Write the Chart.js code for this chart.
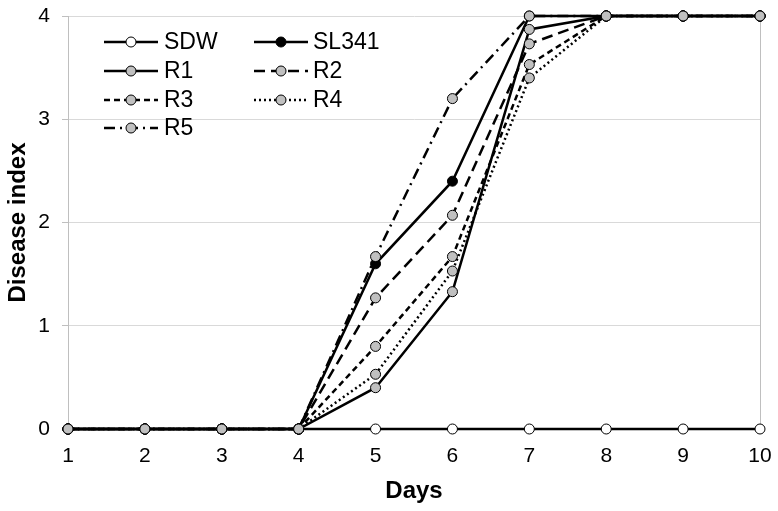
<!DOCTYPE html>
<html>
<head>
<meta charset="utf-8">
<script src="https://cdn.jsdelivr.net/npm/chart.js@4.4.1/dist/chart.umd.min.js"></script>
<style>
  html, body { margin: 0; padding: 0; background: #fff; }
  #wrap { width: 778px; height: 511px; }
</style>
</head>
<body>
<div id="wrap"><canvas id="diseaseChart" width="778" height="511"></canvas></div>
<script>
// --- Dados ---
const days = [1, 2, 3, 4, 5, 6, 7, 8, 9, 10];
const sdw   = [0, 0, 0, 0, 0, 0, 0, 0, 0, 0];
const sl341 = [0, 0, 0, 0, 1.6, 2.4, 4, 4, 4, 4];
const r1    = [0, 0, 0, 0, 0.4, 1.33, 3.87, 4, 4, 4];
const r2    = [0, 0, 0, 0, 1.27, 2.07, 3.73, 4, 4, 4];
const r3    = [0, 0, 0, 0, 0.8, 1.67, 3.53, 4, 4, 4];
const r4    = [0, 0, 0, 0, 0.53, 1.53, 3.4, 4, 4, 4];
const r5    = [0, 0, 0, 0, 1.67, 3.2, 4, 4, 4, 4];
const yTicks = [0, 1, 2, 3, 4];

const FONT = "'Liberation Sans', Arial, sans-serif";
const GRAY = '#c0c0c0';

function toPoints(values) {
    return days.map((d, i) => ({ x: d, y: values[i] }));
}

function makeSeries(label, values, fill, dash, order) {
    return {
        label: label,
        data: toPoints(values),
        borderColor: '#000',
        borderWidth: 2.5,
        borderDash: dash,
        pointRadius: 5,
        pointHoverRadius: 5,
        pointBackgroundColor: fill,
        pointBorderColor: '#000',
        pointBorderWidth: 1,
        tension: 0,
        clip: false,
        order: order
    };
}

const datasets = [
    makeSeries('SDW', sdw, '#fff', [], 7),
    makeSeries('SL341', sl341, '#000', [], 6),
    makeSeries('R1', r1, GRAY, [], 5),
    makeSeries('R2', r2, GRAY, [11, 6], 4),
    makeSeries('R3', r3, GRAY, [6, 4], 3),
    makeSeries('R4', r4, GRAY, [2, 3], 2),
    makeSeries('R5', r5, GRAY, [11, 5, 2, 5], 1)
];

// Legenda desenhada dentro da área do gráfico (2 colunas)
const insideLegend = {
    id: 'insideLegend',
    afterDatasetsDraw(chart) {
        const ctx = chart.ctx;
        const cols = [{ x0: 104, x1: 158, tx: 164 }, { x0: 254, x1: 308, tx: 313 }];
        const rows = [42, 71, 100, 128];
        ctx.save();
        ctx.font = '23px ' + FONT;
        ctx.textBaseline = 'middle';
        ctx.fillStyle = '#000';
        chart.data.datasets.forEach((ds, i) => {
            const c = cols[i === 0 ? 0 : (i === 1 ? 1 : (i % 2 === 0 ? 0 : 1))];
            const y = rows[i < 2 ? 0 : Math.floor(i / 2)];
            ctx.strokeStyle = ds.borderColor;
            ctx.lineWidth = ds.borderWidth;
            ctx.setLineDash(ds.borderDash);
            ctx.beginPath();
            ctx.moveTo(c.x0, y);
            ctx.lineTo(c.x1, y);
            ctx.stroke();
            ctx.setLineDash([]);
            ctx.beginPath();
            ctx.arc((c.x0 + c.x1) / 2, y, ds.pointRadius, 0, Math.PI * 2);
            ctx.fillStyle = ds.pointBackgroundColor;
            ctx.fill();
            ctx.lineWidth = 1;
            ctx.stroke();
            ctx.fillStyle = '#000';
            ctx.fillText(ds.label, c.tx, y + 1);
        });
        ctx.restore();
    }
};

new Chart(document.getElementById('diseaseChart').getContext('2d'), {
    type: 'line',
    data: { datasets: datasets },
    options: {
        responsive: false,
        animation: false,
        layout: { padding: { top: 16, right: 18, left: 0, bottom: 0 } },
        plugins: {
            legend: { display: false },
            tooltip: { enabled: false }
        },
        scales: {
            x: {
                type: 'linear',
                min: 1,
                max: 10,
                afterFit: (scale) => {
                    scale.height = 82;
                    scale.paddingLeft = 0;
                    scale.paddingRight = 0;
                },
                ticks: {
                    stepSize: 1,
                    color: '#000',
                    font: { family: FONT, size: 21 },
                    padding: 15
                },
                grid: {
                    drawTicks: false,
                    color: (c) => (c.tick && (c.tick.value === 1 || c.tick.value === 10)) ? '#bfbfbf' : 'rgba(0,0,0,0)'
                },
                border: { display: true, color: '#000', width: 1 },
                title: {
                    display: true,
                    text: 'Days',
                    color: '#000',
                    font: { family: FONT, size: 24, weight: 'bold' },
                    padding: { top: 0, bottom: 5 }
                }
            },
            y: {
                min: 0,
                max: 4,
                afterFit: (scale) => {
                    scale.width = 68;
                    scale.paddingTop = 0;
                    scale.paddingBottom = 0;
                },
                afterBuildTicks: (scale) => { scale.ticks = yTicks.map(v => ({ value: v })); },
                ticks: {
                    color: '#000',
                    font: { family: FONT, size: 21 },
                    padding: 12
                },
                grid: {
                    color: '#d9d9d9',
                    tickLength: 6,
                    tickColor: '#bfbfbf'
                },
                border: { display: true, color: '#bfbfbf', width: 1 },
                title: {
                    display: true,
                    text: 'Disease index',
                    color: '#000',
                    font: { family: FONT, size: 24, weight: 'bold' },
                    padding: { top: 4, bottom: 0 }
                }
            }
        }
    },
    plugins: [insideLegend]
});
</script>
</body>
</html>
